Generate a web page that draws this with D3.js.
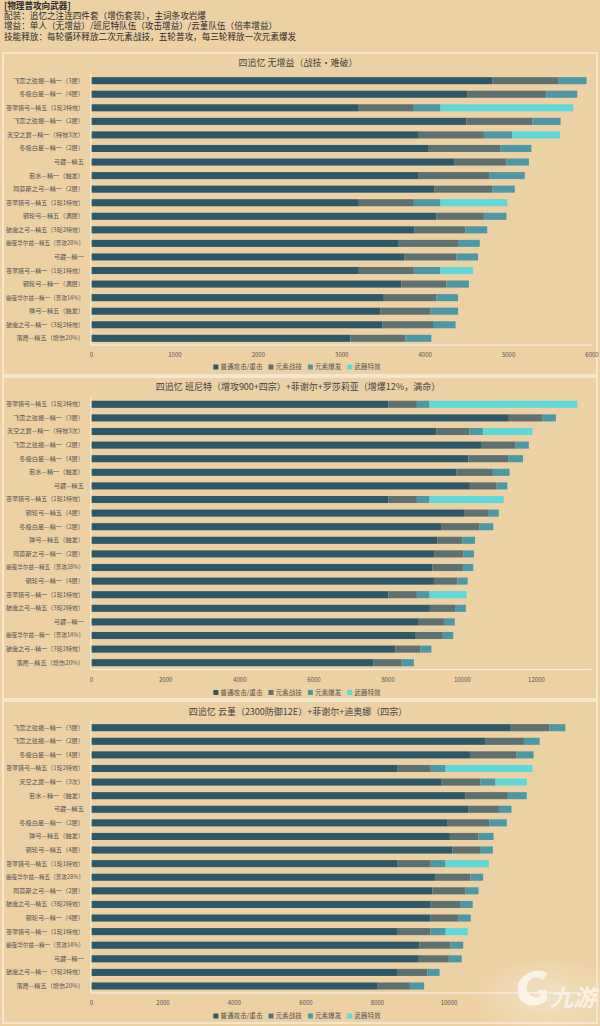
<!DOCTYPE html>
<html><head><meta charset="utf-8">
<script src="https://cdn.jsdelivr.net/npm/d3@7"></script>
<style>body{margin:0;background:#ECD1A4;} svg{display:block} text{font-family:"Noto Sans CJK SC","Noto Sans",sans-serif;}</style>
</head><body><svg id="c" width="600" height="1026"></svg>
<script>
// ---------- header ----------
const headerLines = [
  "[物理普攻向武器]",
  "配装：追忆之注连四件套（增伤套装），主词条攻岩爆",
  "增益：单人（无增益）/班尼特队伍（攻击增益）/云堇队伍（倍率增益）",
  "技能释放：每轮循环释放二次元素战技，五轮普攻，每三轮释放一次元素爆发"
];
const seriesNames = ["普通攻击/重击", "元素战技", "元素爆发", "武器特效"];

// ---------- panel 1 : 无增益 ----------
const title1 = "四追忆 无增益（战技·难破）";
const cats1 = ["飞雷之弦振—精一（3层）","冬极白星—精一（4层）","苍翠猎弓—精五（1轮2特效）","飞雷之弦振—精一（2层）","天空之翼—精一（特效3次）","冬极白星—精一（2层）","弓藏—精五","若水—精一（触发）","阿莫斯之弓—精一（2层）","苍翠猎弓—精五（1轮1特效）","钢轮弓—精五（满层）","破魔之弓—精五（3轮2特效）","幽夜华尔兹—精五（普攻28%）","弓藏—精一","苍翠猎弓—精一（1轮1特效）","钢轮弓—精一（满层）","幽夜华尔兹—精一（普攻14%）","弹弓—精五（触发）","破魔之弓—精一（3轮2特效）","落霞—精五（增伤20%）"];
const normal1 = [4810,4510,3210,4500,3930,4040,4360,3920,4120,3210,4140,3880,3680,3760,3210,3720,3510,3470,3490,3110];
const skill1  = [790,950,660,790,780,870,620,860,690,660,570,610,720,620,660,540,630,600,610,660];
const burst1  = [340,370,320,340,340,370,270,420,270,320,270,260,260,260,320,270,260,330,270,310];
const weapon1 = [0,0,1590,0,570,0,0,0,0,800,0,0,0,0,390,0,0,0,0,0];
const ticks1 = [0,1000,2000,3000,4000,5000,6000];

// ---------- panel 2 : 班尼特 ----------
const title2 = "四追忆 班尼特（增攻900+四宗）+菲谢尔+罗莎莉亚（增爆12%，满命）";
const cats2 = ["苍翠猎弓—精五（1轮2特效）","飞雷之弦振—精一（3层）","天空之翼—精一（特效3次）","飞雷之弦振—精一（2层）","冬极白星—精一（4层）","若水—精一（触发）","弓藏—精五","苍翠猎弓—精五（1轮1特效）","钢轮弓—精五（4层）","冬极白星—精一（2层）","弹弓—精五（触发）","阿莫斯之弓—精一（2层）","幽夜华尔兹—精五（普攻28%）","钢轮弓—精一（4层）","苍翠猎弓—精一（1轮1特效）","破魔之弓—精五（3轮2特效）","弓藏—精一","幽夜华尔兹—精一（普攻14%）","破魔之弓—精一（3轮2特效）","落霞—精五（增伤20%）"];
const normal2 = [8020,11270,9320,10540,10180,9850,10220,8020,10060,9460,9340,9270,9210,9250,8020,9140,8820,8760,8210,7610];
const skill2  = [770,900,890,910,1080,990,720,770,670,1010,670,780,820,630,770,680,700,730,670,770];
const burst2  = [340,370,360,360,390,450,290,340,270,380,350,280,280,280,340,290,290,280,300,330];
const weapon2 = [3990,0,1340,0,0,0,0,2000,0,0,0,0,0,0,1000,0,0,0,0,0];
const ticks2 = [0,2000,4000,6000,8000,10000,12000];

// ---------- panel 3 : 云堇 ----------
const title3 = "四追忆 云堇（2300防御12E）+菲谢尔+迪奥娜（四宗）";
const cats3 = ["飞雷之弦振—精一（3层）","飞雷之弦振—精一（2层）","冬极白星—精一（4层）","苍翠猎弓—精五（1轮2特效）","天空之翼—精一（3次）","若水—精一（触发）","弓藏—精五","冬极白星—精一（2层）","弹弓—精五（触发）","钢轮弓—精五（4层）","苍翠猎弓—精五（1轮1特效）","幽夜华尔兹—精五（普攻28%）","阿莫斯之弓—精一（2层）","破魔之弓—精五（3轮2特效）","钢轮弓—精一（4层）","苍翠猎弓—精一（1轮1特效）","幽夜华尔兹—精一（普攻14%）","弓藏—精一","破魔之弓—精一（3轮2特效）","落霞—精五（增伤20%）"];
const normal3 = [11720,11020,10600,8580,9810,10480,10550,9960,10040,10110,8580,9640,9550,9500,9500,8580,9190,9170,8580,8020];
const skill3  = [1100,1090,1300,920,1080,1180,860,1180,800,790,920,970,930,840,770,920,860,840,830,900];
const burst3  = [450,440,480,420,420,530,350,490,420,340,420,360,360,340,350,420,360,360,340,400];
const weapon3 = [0,0,0,2430,880,0,0,0,0,0,1210,0,0,0,0,620,0,0,0,0];
const ticks3 = [0,2000,4000,6000,8000,10000];

const colors = ["#2E5866","#5E716F","#4E98A4","#5FD8D7"];
const svg = d3.select("#c");
const bg = "#ECD1A4";
svg.append("rect").attr("width",600).attr("height",1026).attr("fill",bg);

// header text
headerLines.forEach((t,i)=>{
  svg.append("text").attr("x",4).attr("y",9+i*10.2).attr("font-size",8.6)
    .attr("font-weight", i===0?"bold":"normal")
    .attr("fill","#2b2b2b").text(t);
});

const panels = [
  {title:title1, cats:cats1, data:[normal1,skill1,burst1,weapon1], ticks:ticks1, max:6000,
   top:53, bottom:375, titleY:65.5, bandTop:73.9, bandBottom:345.1, tickY:355.5, legendY:369},
  {title:title2, cats:cats2, data:[normal2,skill2,burst2,weapon2], ticks:ticks2, max:13500,
   top:377, bottom:699, titleY:389.5, bandTop:397.5, bandBottom:669.5, tickY:679.5, legendY:694.5},
  {title:title3, cats:cats3, data:[normal3,skill3,burst3,weapon3], ticks:ticks3, max:14000,
   top:701, bottom:1023, titleY:714.5, bandTop:720.9, bandBottom:992.8, tickY:1003, legendY:1018}
];

const X0 = 91, X1 = 591.5;
panels.forEach(p=>{
  const g = svg.append("g");
  g.append("rect").attr("x",3).attr("y",p.top).attr("width",594).attr("height",p.bottom-p.top)
    .attr("fill",bg).attr("stroke","#F7EBD8").attr("stroke-width",1.6);
  g.append("text").attr("x",298).attr("y",p.titleY).attr("text-anchor","middle")
    .attr("font-size",9).attr("fill","#444").text(p.title);

  const x = d3.scaleLinear().domain([0,p.max]).range([X0,X1]);
  const y = d3.scaleBand().domain(p.cats).range([p.bandTop,p.bandBottom]).paddingInner(0.48).paddingOuter(0.24);

  const rows = p.cats.map((c,i)=>({cat:c, vals:p.data.map(s=>s[i])}));
  const stack = d3.stack().keys([0,1,2,3]).value((d,k)=>d.vals[k])(rows);
  stack.forEach((layer,k)=>{
    g.append("g").selectAll("rect").data(layer).join("rect")
      .attr("x",d=>x(d[0])).attr("width",d=>Math.max(0,x(d[1])-x(d[0])))
      .attr("y",d=>y(d.data.cat)).attr("height",y.bandwidth())
      .attr("fill",colors[k]);
  });

  // y axis
  const ya = g.append("g").attr("transform",`translate(${X0},0)`).call(d3.axisLeft(y).tickSize(0).tickPadding(7));
  ya.select(".domain").attr("stroke","#F8EEDD").attr("stroke-width",1.2).attr("d",`M0,${p.bandTop}V${p.bandBottom}`);
  ya.selectAll("text").attr("font-size",6.2).attr("fill","#555").attr("font-family",'"Noto Sans CJK SC",sans-serif')
    .each(function(){
      const len = this.getComputedTextLength();
      const maxW = 78;
      if (len > maxW) d3.select(this).attr("textLength",maxW).attr("lengthAdjust","spacingAndGlyphs");
    });

  // x axis
  const xa = g.append("g").attr("transform",`translate(0,${p.bandBottom})`).call(d3.axisBottom(x).tickValues(p.ticks).tickSize(0).tickPadding(8).tickFormat(d3.format("d")));
  xa.select(".domain").attr("stroke","#F8EEDD").attr("stroke-width",1.2).attr("d",`M${X0},0H${X1}`);
  xa.selectAll("text").attr("font-size",6).attr("fill","#555").attr("font-family",'"Noto Sans CJK SC",sans-serif');

  // legend
  const lg = g.append("g");
  let cx = 0;
  seriesNames.forEach((n,k)=>{
    lg.append("rect").attr("x",cx).attr("y",-4.5).attr("width",5).attr("height",5).attr("fill",colors[k]);
    const t = lg.append("text").attr("x",cx+7).attr("y",0).attr("font-size",6.6).attr("fill","#555").text(n);
    cx += 7 + t.node().getComputedTextLength() + 6;
  });
  cx -= 6;
  lg.attr("transform",`translate(${297-cx/2},${p.legendY})`);
});

// watermark
const defs = svg.append("defs");
const rg = defs.append("radialGradient").attr("id","wm").attr("cx","60%").attr("cy","60%").attr("r","60%");
rg.append("stop").attr("offset","0%").attr("stop-color","#fff").attr("stop-opacity",0.35);
rg.append("stop").attr("offset","100%").attr("stop-color","#fff").attr("stop-opacity",0);
svg.append("rect").attr("x",470).attr("y",955).attr("width",130).attr("height",71).attr("fill","url(#wm)");
svg.append("path").attr("d","M518,984 C524,971 540,967 548,974 L542,980 C537,976 530,977 527,985 C525,994 534,1000 541,996 L537,990 L547,990 L547,1000 C538,1010 520,1006 518,995 Z")
  .attr("fill","#FBF3E8").attr("opacity",0.95);
svg.append("text").attr("x",550).attr("y",1006).attr("font-size",23).attr("font-style","italic").attr("font-weight","bold")
  .attr("fill","#FBF3E8").attr("opacity",0.95).text("九游");
</script></body></html>
